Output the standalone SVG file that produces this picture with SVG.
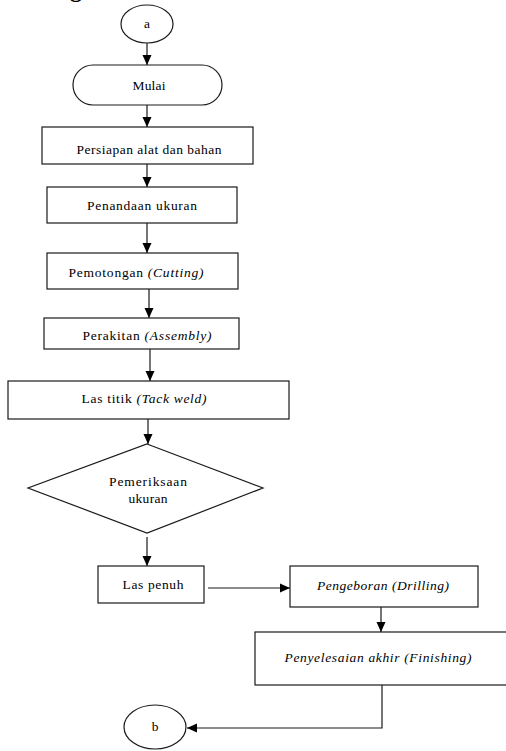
<svg xmlns="http://www.w3.org/2000/svg" width="506" height="751" viewBox="0 0 506 751">
<style>
  .box { fill: #fff; stroke: #1a1a1a; stroke-width: 1.2; }
  .t { font-family: "Liberation Serif", "DejaVu Serif", serif; font-size: 13.5px; fill: #000; text-anchor: middle; }
  .i { font-style: italic; }
  .c { fill: none; stroke: #1a1a1a; stroke-width: 1.2; }
</style>
<defs>
  <marker id="ah" markerUnits="userSpaceOnUse" markerWidth="10" markerHeight="10" viewBox="0 0 10 10" refX="10" refY="5" orient="auto">
    <path d="M0,0.5 L10,5 L0,9.5 Z" fill="#000"/>
  </marker>
</defs>
<rect width="506" height="751" fill="#fff"/>
<text x="70" y="-3" font-family="Liberation Serif, serif" font-size="24" font-weight="bold" fill="#000">g</text>

<g id="connectors">
  <line class="c" x1="147" y1="43" x2="147" y2="65" marker-end="url(#ah)"/>
  <line class="c" x1="147" y1="105" x2="147" y2="127" marker-end="url(#ah)"/>
  <line class="c" x1="147" y1="156" x2="147" y2="187" marker-end="url(#ah)"/>
  <line class="c" x1="147" y1="223" x2="147" y2="253" marker-end="url(#ah)"/>
  <line class="c" x1="149" y1="289" x2="149" y2="318" marker-end="url(#ah)"/>
  <line class="c" x1="150" y1="349" x2="150" y2="381" marker-end="url(#ah)"/>
  <line class="c" x1="148" y1="419" x2="148" y2="444" marker-end="url(#ah)"/>
  <line class="c" x1="147" y1="537" x2="147" y2="566" marker-end="url(#ah)"/>
  <line class="c" x1="208" y1="588" x2="290" y2="588" marker-end="url(#ah)"/>
  <line class="c" x1="381" y1="607" x2="381" y2="632" marker-end="url(#ah)"/>
  <polyline class="c" points="382,685 382,728 187,728" marker-end="url(#ah)"/>
</g>

<g id="node-a">
  <ellipse class="box" cx="147" cy="24" rx="26" ry="19"/>
  <text class="t" x="147" y="28">a</text>
</g>
<g id="node-mulai">
  <rect class="box" x="73" y="65" width="149" height="40" rx="20"/>
  <text class="t" x="149" y="90" textLength="33">Mulai</text>
</g>
<g id="node-persiapan">
  <rect class="box" x="42" y="127" width="211" height="37"/>
  <text class="t" x="149" y="154" textLength="145">Persiapan alat dan bahan</text>
</g>
<g id="node-penandaan">
  <rect class="box" x="47" y="187" width="190" height="36"/>
  <text class="t" x="142" y="210" textLength="110">Penandaan ukuran</text>
</g>
<g id="node-pemotongan">
  <rect class="box" x="47" y="253" width="191" height="36"/>
  <text class="t" x="136" y="277" textLength="135">Pemotongan <tspan class="i">(Cutting)</tspan></text>
</g>
<g id="node-perakitan">
  <rect class="box" x="44" y="318" width="195" height="31"/>
  <text class="t" x="147" y="340" textLength="129">Perakitan <tspan class="i">(Assembly)</tspan></text>
</g>
<g id="node-lastitik">
  <rect class="box" x="8" y="381" width="281" height="38"/>
  <text class="t" x="144" y="403" textLength="125">Las titik <tspan class="i">(Tack weld)</tspan></text>
</g>
<g id="node-pemeriksaan">
  <polygon class="box" points="147,444 263,488 147,533 28,488"/>
  <text class="t" x="148" y="486" textLength="78">Pemeriksaan</text>
  <text class="t" x="148" y="503" textLength="39">ukuran</text>
</g>
<g id="node-laspenuh">
  <rect class="box" x="98" y="566" width="106" height="37"/>
  <text class="t" x="153" y="589" textLength="61">Las penuh</text>
</g>
<g id="node-pengeboran">
  <rect class="box" x="290" y="566" width="188" height="41"/>
  <text class="t i" x="383" y="590" textLength="132">Pengeboran (Drilling)</text>
</g>
<g id="node-penyelesaian">
  <rect class="box" x="255" y="632" width="255" height="53"/>
  <text class="t i" x="378" y="662" textLength="187">Penyelesaian akhir (Finishing)</text>
</g>
<g id="node-b">
  <ellipse class="box" cx="155" cy="727" rx="31" ry="22"/>
  <text class="t" x="155" y="731">b</text>
</g>
</svg>
